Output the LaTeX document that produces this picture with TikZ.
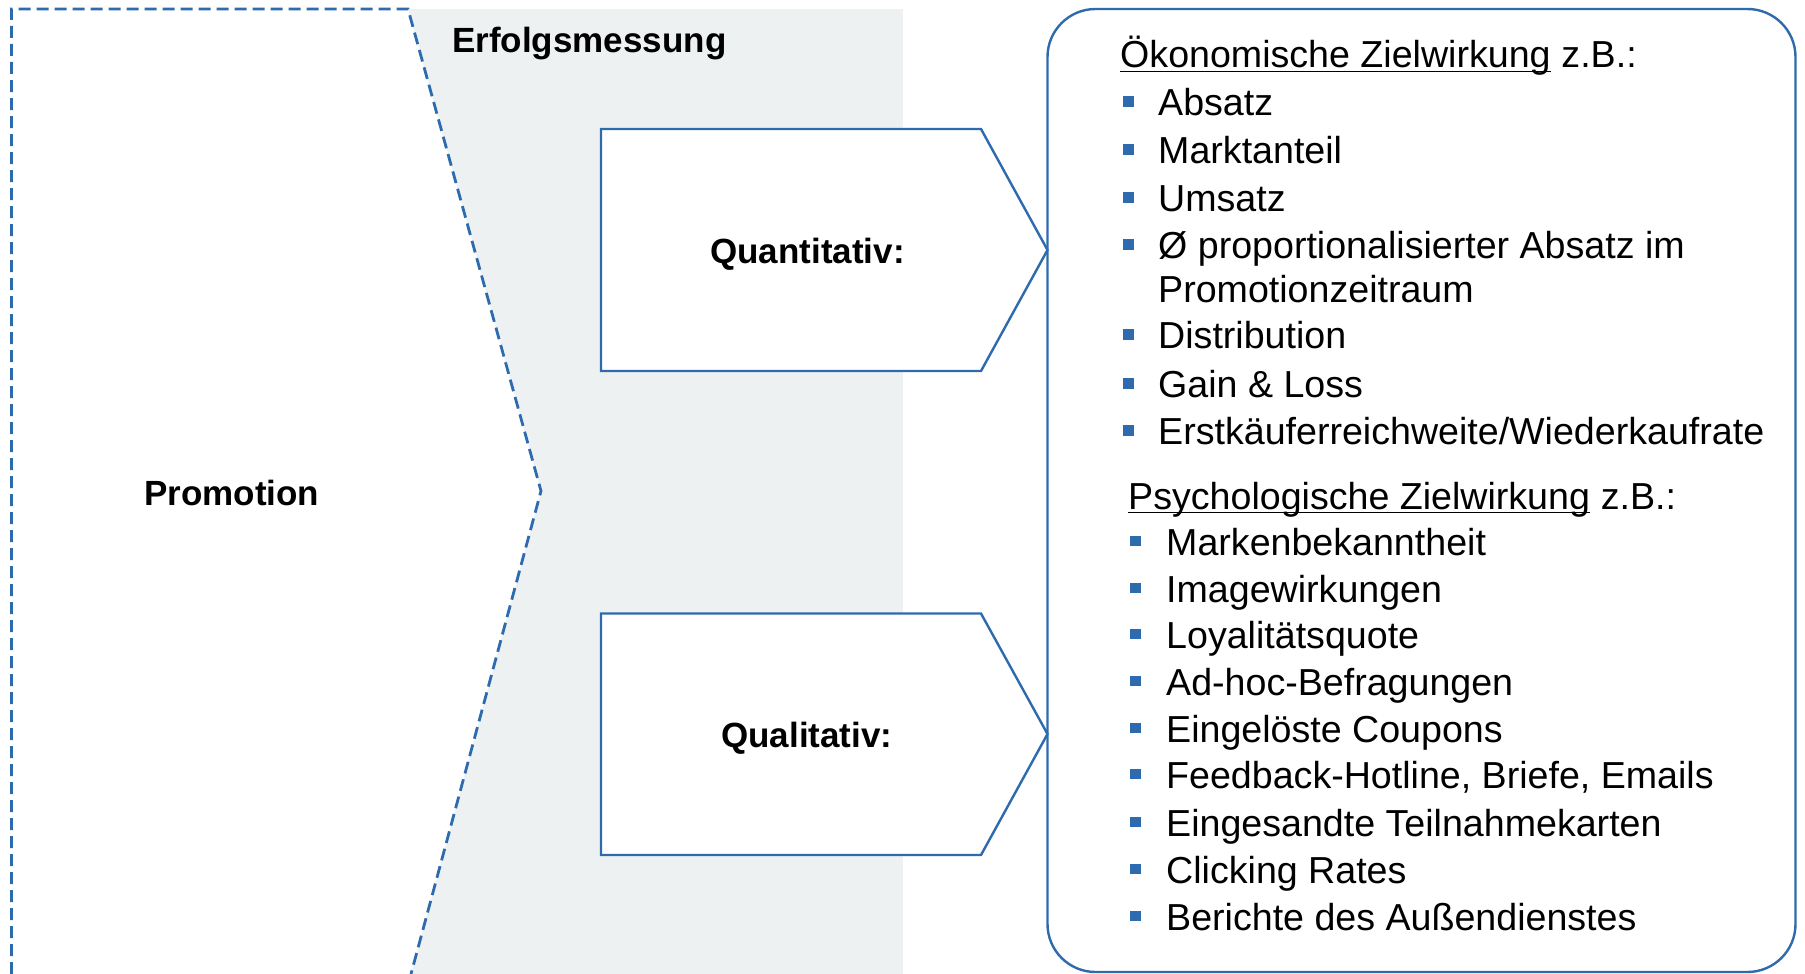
\documentclass[tikz,border=0pt]{standalone}
\usepackage{fontspec}
\setmainfont{Liberation Sans}
\definecolor{lineblue}{RGB}{46,106,174}
\definecolor{bggrey}{RGB}{237,241,242}
\begin{document}
\begin{tikzpicture}[x=1pt,y=-1pt,
  box/.style={draw=lineblue,line width=2.4pt,fill=white,line join=miter},
  lbl/.style={anchor=base west,inner sep=0pt,font=\bfseries\fontsize{35}{40}\selectfont},
  item/.style={anchor=base west,inner sep=0pt,font=\fontsize{37.6}{44}\selectfont},
  bul/.style={fill=lineblue,minimum size=10.5pt,inner sep=0pt,draw=none},
  uline/.style={line width=1.8pt,black}]
\useasboundingbox (0,0) rectangle (1805,974);
% grey background
\fill[bggrey] (408,9) rectangle (903,974);
% promotion chevron
\draw[lineblue,line width=2.8pt,dash pattern=on 12pt off 6pt,fill=white]
  (11.5,974) -- (11.5,9) -- (408,9) -- (541,491) -- (411,974);
\node[lbl] (promo) at (144,505) {Promotion};
\node[lbl] (erf) at (452,53) {Erfolgsmessung};
% arrow boxes
\draw[box] (601,129) -- (981,129) -- (1047.5,250) -- (981,371) -- (601,371) -- cycle;
\draw[box] (601,613.5) -- (981,613.5) -- (1047.5,734) -- (981,855) -- (601,855) -- cycle;
\node[lbl] (quant) at (710,263) {Quantitativ:};
\node[lbl] (qual) at (721,747) {Qualitativ:};
% right rounded box
\draw[lineblue,line width=2.4pt,rounded corners=48pt] (1047.5,9) rectangle (1795.5,972);
% header 1
\node[item] (h1) at (1120,68) {Ökonomische Zielwirkung};
\node[item] (h1b) at ([xshift=10.4pt]h1.base east) {z.B.:};
\draw[uline] ([yshift=-3.5pt]h1.base west) -- ([yshift=-3.5pt]h1.base east);
% items group 1
\node[item] (a1) at (1158,115) {Absatz};
\node[item] (a2) at (1158,163) {Marktanteil};
\node[item] (a3) at (1158,211) {Umsatz};
\node[item] (a4) at (1158,258) {Ø proportionalisierter Absatz im};
\node[item] (a4b) at (1158,302) {Promotionzeitraum};
\node[item] (a5) at (1158,348) {Distribution};
\node[item] (a6) at (1158,397) {Gain \& Loss};
\node[item] (a7) at (1158,444) {Erstkäuferreichweite/Wiederkaufrate};
\foreach \n/\y in {1/115,2/163,3/211,4/258,5/348,6/397,7/444}
  \node[bul] (ba\n) at (1128.5,\y-13.5) {};
% header 2
\node[item] (h2) at (1128,509) {Psychologische Zielwirkung};
\node[item] (h2b) at ([xshift=10.4pt]h2.base east) {z.B.:};
\draw[uline] ([yshift=-3.5pt]h2.base west) -- ([yshift=-3.5pt]h2.base east);
% items group 2
\node[item] (p1) at (1166,555) {Markenbekanntheit};
\node[item] (p2) at (1166,602) {Imagewirkungen};
\node[item] (p3) at (1166,648) {Loyalitätsquote};
\node[item] (p4) at (1166,695) {Ad-hoc-Befragungen};
\node[item] (p5) at (1166,742) {Eingelöste Coupons};
\node[item] (p6) at (1166,788) {Feedback-Hotline, Briefe, Emails};
\node[item] (p7) at (1166,836) {Eingesandte Teilnahmekarten};
\node[item] (p8) at (1166,883) {Clicking Rates};
\node[item] (p9) at (1166,930) {Berichte des Außendienstes};
\foreach \n/\y in {1/555,2/602,3/648,4/695,5/742,6/788,7/836,8/883,9/930}
  \node[bul] (bp\n) at (1135.5,\y-14) {};
\end{tikzpicture}
\end{document}
